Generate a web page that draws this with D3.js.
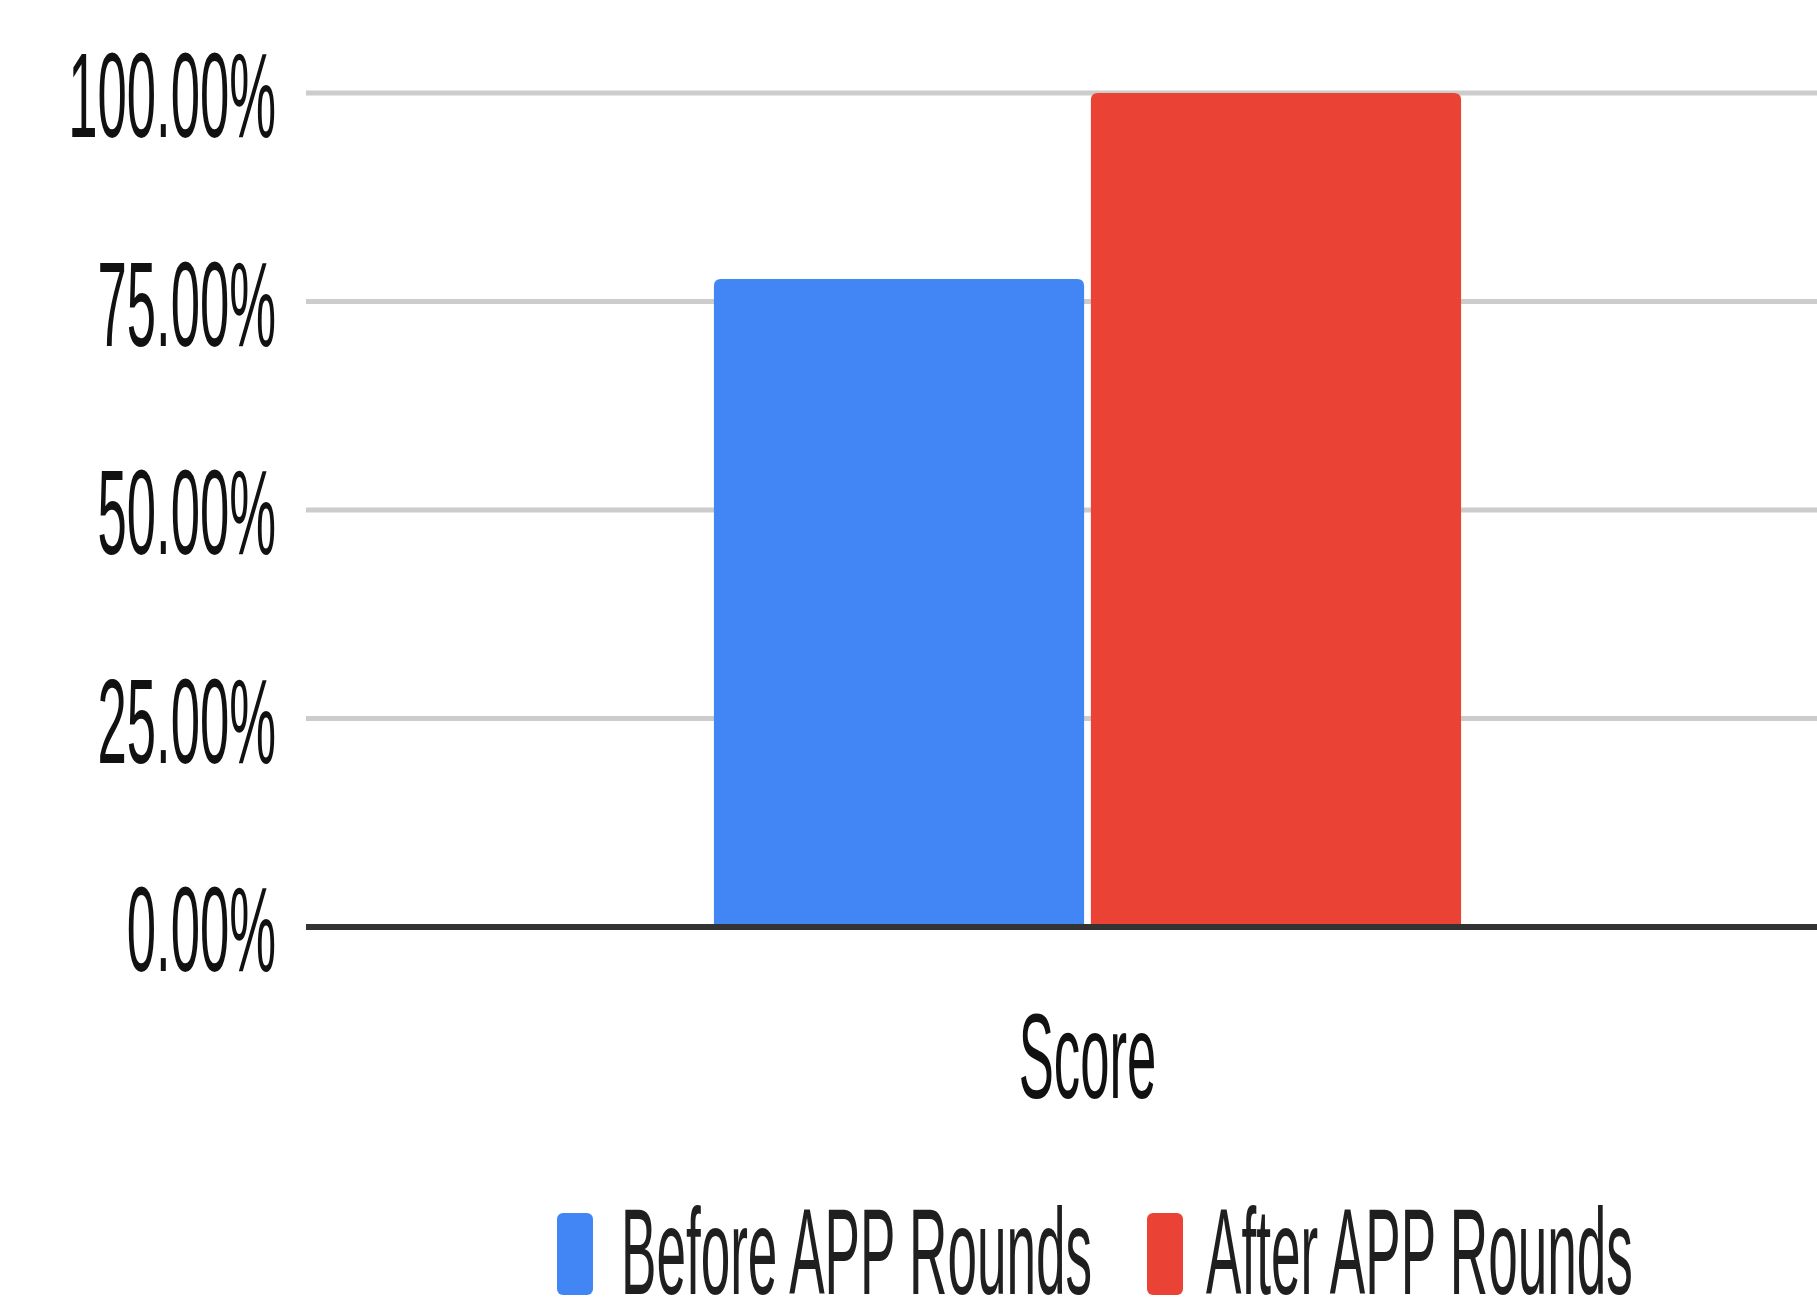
<!DOCTYPE html>
<html>
<head>
<meta charset="utf-8">
<script src="https://cdn.jsdelivr.net/npm/d3@7"></script>
<style>
  html, body { margin: 0; padding: 0; background: #fff; overflow: hidden; }
  svg { display: block; font-family: "Liberation Sans", Arial, sans-serif; }
</style>
</head>
<body>
<svg id="chart" width="1817" height="1306"></svg>
<script>
// Chart data
const categories = ["Score"];
const seriesNames = ["Before APP Rounds", "After APP Rounds"];
const seriesColors = ["#4285f4", "#ea4335"];
const beforeValues = [0.777];
const afterValues = [1.0];
const yTicks = [0, 0.25, 0.5, 0.75, 1.0];

const rows = categories.map((c, i) => ({
  category: c,
  values: [beforeValues[i], afterValues[i]]
}));

const svg = d3.select("#chart");
const W = 1817, H = 1306;
svg.append("rect").attr("width", W).attr("height", H).attr("fill", "#fff");

const plotLeft = 306, plotRight = 1869;
const fontSize = 121;
const squeeze = 0.435; // narrow horizontal text proportions

const y = d3.scaleLinear().domain([0, 1]).range([927, 93]);
const x0 = d3.scaleBand().domain(categories).range([plotLeft, plotRight])
  .paddingInner(0).paddingOuter(0.546);
const x1 = d3.scaleBand().domain(seriesNames).range([0, x0.bandwidth()])
  .paddingInner(0.018);

const fmt = d3.format(".2%");

// Horizontal gridlines
svg.append("g").selectAll("line")
  .data(yTicks.filter(t => t > 0))
  .join("line")
  .attr("x1", plotLeft).attr("x2", W)
  .attr("y1", d => y(d)).attr("y2", d => y(d))
  .attr("stroke", "#cccccc").attr("stroke-width", 5);

// Y axis tick labels
const yAxis = d3.axisLeft(y).tickValues(yTicks).tickFormat(fmt).tickSize(0).tickPadding(30);
const gy = svg.append("g").attr("transform", `translate(${plotLeft},0)`).call(yAxis);
gy.select(".domain").remove();
gy.selectAll("text")
  .attr("font-size", fontSize)
  .attr("font-family", "Liberation Sans, Arial, sans-serif")
  .attr("fill", "#111")
  .attr("x", -30 / squeeze)
  .attr("dy", "0.36em")
  .attr("transform", `scale(${squeeze},1)`);

// Bars with slightly rounded top corners
function topRoundedBar(x, yTop, w, h, r) {
  r = Math.min(r, w / 2, h);
  return `M${x},${yTop + h}V${yTop + r}Q${x},${yTop} ${x + r},${yTop}` +
    `H${x + w - r}Q${x + w},${yTop} ${x + w},${yTop + r}V${yTop + h}Z`;
}

const groups = svg.append("g").selectAll("g")
  .data(rows).join("g")
  .attr("transform", d => `translate(${x0(d.category)},0)`);

groups.selectAll("path")
  .data(d => d.values.map((v, i) => ({ name: seriesNames[i], value: v, color: seriesColors[i] })))
  .join("path")
  .attr("d", d => topRoundedBar(x1(d.name), y(d.value), x1.bandwidth(), y(0) - y(d.value), 7))
  .attr("fill", d => d.color);

// Baseline
svg.append("line")
  .attr("x1", plotLeft).attr("x2", W)
  .attr("y1", y(0)).attr("y2", y(0))
  .attr("stroke", "#333").attr("stroke-width", 6);

// Category label
const xAxis = d3.axisBottom(x0).tickSize(0).tickPadding(0);
const gx = svg.append("g").attr("transform", `translate(0,1098)`).call(xAxis);
gx.select(".domain").remove();
gx.selectAll(".tick text")
  .attr("font-size", fontSize)
  .attr("font-family", "Liberation Sans, Arial, sans-serif")
  .attr("fill", "#111")
  .attr("dy", 0)
  .attr("y", 0)
  .attr("x", 0)
  .attr("transform", `scale(${squeeze},1)`);

// Legend
const legendItems = [
  { name: seriesNames[0], color: seriesColors[0], sx: 557, tx: 621 },
  { name: seriesNames[1], color: seriesColors[1], sx: 1147, tx: 1206 }
];
const lg = svg.append("g");
lg.selectAll("rect")
  .data(legendItems).join("rect")
  .attr("x", d => d.sx).attr("y", 1213)
  .attr("width", 36).attr("height", 82)
  .attr("rx", 6).attr("ry", 6)
  .attr("fill", d => d.color);
lg.selectAll("g.item")
  .data(legendItems).join("g")
  .attr("class", "item")
  .attr("transform", d => `translate(${d.tx},1294) scale(${squeeze},1)`)
  .append("text")
  .attr("font-size", fontSize + 1)
  .attr("fill", "#1f1f1f")
  .text(d => d.name);
</script>
</body>
</html>
